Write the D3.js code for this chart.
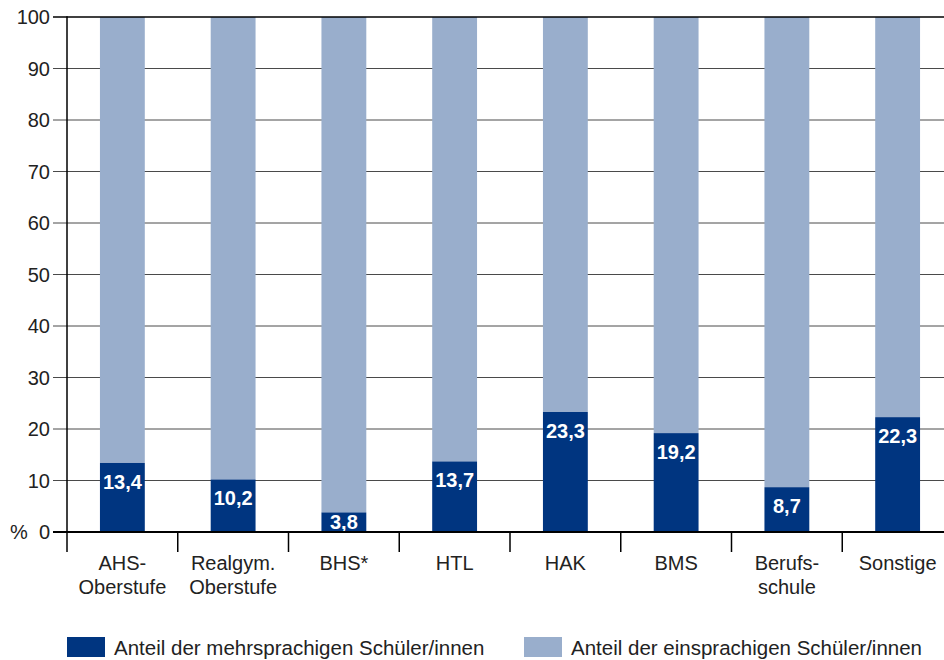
<!DOCTYPE html>
<html>
<head>
<meta charset="utf-8">
<script src="https://cdn.jsdelivr.net/npm/d3@7/dist/d3.min.js"></script>
<style>
  html, body { margin: 0; padding: 0; background: #fff; }
  svg { display: block; font-family: "Liberation Sans", Arial, Helvetica, sans-serif; }
</style>
</head>
<body>
<svg id="chart" width="944" height="660"></svg>
<script>
const categories = [["AHS-", "Oberstufe"], ["Realgym.", "Oberstufe"], ["BHS*"], ["HTL"], ["HAK"], ["BMS"], ["Berufs-", "schule"], ["Sonstige"]];
const keys = ["AHS", "Realgym", "BHS", "HTL", "HAK", "BMS", "Berufsschule", "Sonstige"];
const mehrsprachig = [13.4, 10.2, 3.8, 13.7, 23.3, 19.2, 8.7, 22.3];
const einsprachig = [86.6, 89.8, 96.2, 86.3, 76.7, 80.8, 91.3, 77.7];
const valueLabels = ["13,4", "10,2", "3,8", "13,7", "23,3", "19,2", "8,7", "22,3"];
const yTicks = [0, 10, 20, 30, 40, 50, 60, 70, 80, 90, 100];
const legendLabels = ["Anteil der mehrsprachigen Schüler/innen", "Anteil der einsprachigen Schüler/innen"];
const colors = ["#003580", "#99aecc"];

const svg = d3.select("#chart");
const x0 = 67, x1 = 953, yBottom = 532, yTop = 17;

const x = d3.scaleBand().domain(keys).range([x0, x1]).paddingInner(0.595).paddingOuter(0.2975);
const y = d3.scaleLinear().domain([0, 100]).range([yBottom, yTop]);
const step = x.step();

// gridlines
svg.append("g").selectAll("line").data(yTicks.filter(d => d !== 0 && d !== 100)).join("line")
  .attr("x1", 53).attr("x2", 944)
  .attr("y1", d => y(d)).attr("y2", d => y(d))
  .attr("stroke", "#4a4a4a").attr("stroke-width", 1);

// bars
const rows = keys.map((k, i) => ({ k, m: mehrsprachig[i], e: einsprachig[i], lab: valueLabels[i] }));
const g = svg.append("g");
g.selectAll("rect.e").data(rows).join("rect").attr("class", "e")
  .attr("x", d => x(d.k)).attr("width", x.bandwidth())
  .attr("y", d => y(d.m + d.e)).attr("height", d => y(d.m) - y(d.m + d.e))
  .attr("fill", colors[1]);
g.selectAll("rect.m").data(rows).join("rect").attr("class", "m")
  .attr("x", d => x(d.k)).attr("width", x.bandwidth())
  .attr("y", d => y(d.m)).attr("height", d => y(0) - y(d.m))
  .attr("fill", colors[0]);
g.selectAll("text.v").data(rows).join("text").attr("class", "v")
  .attr("x", d => x(d.k) + x.bandwidth() / 2)
  .attr("y", d => Math.min(y(d.m) + 26, y(0) - 3))
  .attr("text-anchor", "middle").attr("fill", "#fff")
  .attr("font-size", 20).attr("font-weight", "bold")
  .text(d => d.lab);

// top line and zero line
svg.append("line").attr("x1", 53).attr("x2", 944).attr("y1", y(100)).attr("y2", y(100))
  .attr("stroke", "#000").attr("stroke-width", 1.6);
svg.append("line").attr("x1", 53).attr("x2", 944).attr("y1", y(0)).attr("y2", y(0))
  .attr("stroke", "#000").attr("stroke-width", 2);

// y axis
svg.append("line").attr("x1", x0).attr("x2", x0).attr("y1", y(100) - 0.8).attr("y2", 552)
  .attr("stroke", "#000").attr("stroke-width", 1.5);
svg.append("g").selectAll("text").data(yTicks).join("text")
  .attr("x", 50).attr("y", d => y(d)).attr("dy", "0.35em")
  .attr("text-anchor", "end").attr("font-size", 20).attr("fill", "#222")
  .text(d => d);
svg.append("text").attr("x", 10).attr("y", y(0)).attr("dy", "0.35em")
  .attr("font-size", 20).attr("fill", "#222").text("%");

// category ticks
svg.append("g").selectAll("line").data(keys.slice(1)).join("line")
  .attr("x1", d => x(d) - (step - x.bandwidth()) / 2).attr("x2", d => x(d) - (step - x.bandwidth()) / 2)
  .attr("y1", y(0)).attr("y2", 552)
  .attr("stroke", "#000").attr("stroke-width", 1.5);

// category labels
const cl = svg.append("g").selectAll("text").data(keys).join("text")
  .attr("x", d => x(d) + x.bandwidth() / 2)
  .attr("y", 570)
  .attr("text-anchor", "middle").attr("font-size", 20).attr("fill", "#222");
cl.each(function(d, i) {
  const t = d3.select(this);
  categories[i].forEach((line, j) => {
    t.append("tspan").attr("x", x(d) + x.bandwidth() / 2).attr("dy", j === 0 ? 0 : 23.5).text(line);
  });
});

// legend
const legendX = [67, 524];
legendLabels.forEach((lab, i) => {
  svg.append("rect").attr("x", legendX[i]).attr("y", 637).attr("width", 38).attr("height", 20).attr("fill", colors[i]);
  svg.append("text").attr("x", legendX[i] + 47).attr("y", 655).attr("font-size", 20.5).attr("fill", "#222").text(lab);
});
</script>
</body>
</html>
